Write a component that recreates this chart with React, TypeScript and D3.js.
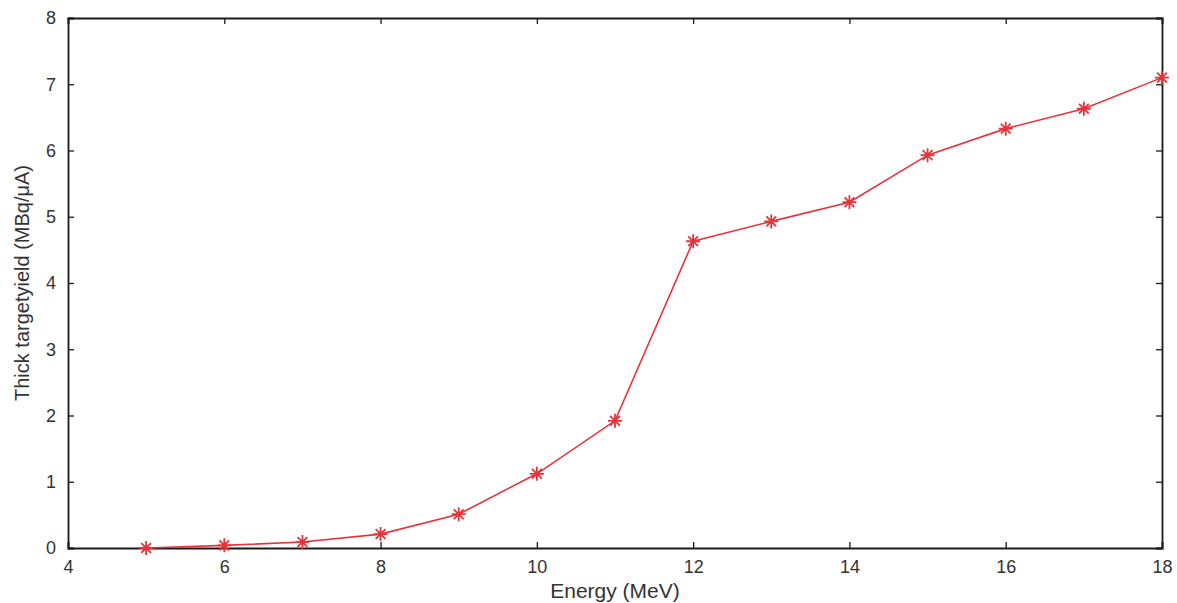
import React, { useRef, useEffect } from 'react';
import * as d3 from 'd3';

const energy = [5, 6, 7, 8, 9, 10, 11, 12, 13, 14, 15, 16, 17, 18];
const yieldValues = [0, 0.04, 0.09, 0.21, 0.51, 1.12, 1.92, 4.63, 4.93, 5.22, 5.93, 6.33, 6.63, 7.1];
const xTicks = [4, 6, 8, 10, 12, 14, 16, 18];
const yTicks = [0, 1, 2, 3, 4, 5, 6, 7, 8];

const App = () => {
    const ref = useRef<SVGSVGElement>(null);

    useEffect(() => {
        const svg = d3.select(ref.current);
        svg.selectAll("*").remove();

        const margin = { top: 18, right: 15, bottom: 55, left: 68 },
            fullW = 1177, fullH = 603,
            width = fullW - margin.left - margin.right,
            height = fullH - margin.top - margin.bottom;

        const font = "'Liberation Sans', Arial, sans-serif";
        const red = "#e8323a";

        const g = svg.append("g")
            .attr("transform", `translate(${margin.left}, ${margin.top})`);

        const x = d3.scaleLinear().domain([4, 18]).range([0, width]);
        const y = d3.scaleLinear().domain([0, 8]).range([height, 0]);

        // ticks pointing inward on all four sides
        const tk = 6;
        g.append("g").attr("transform", `translate(0, ${height})`)
            .call(d3.axisBottom(x).tickValues(xTicks).tickSize(-tk).tickPadding(12).tickFormat(d3.format("d")));
        g.append("g")
            .call(d3.axisTop(x).tickValues(xTicks).tickSize(-tk).tickFormat(() => ""));
        g.append("g")
            .call(d3.axisLeft(y).tickValues(yTicks).tickSize(-tk).tickPadding(12).tickFormat(d3.format("d")));
        g.append("g").attr("transform", `translate(${width}, 0)`)
            .call(d3.axisRight(y).tickValues(yTicks).tickSize(-tk).tickFormat(() => ""));

        g.selectAll(".domain").attr("stroke", "#1a1a1a").attr("stroke-width", 1.8);
        g.selectAll(".tick line").attr("stroke", "#1a1a1a").attr("stroke-width", 1.3);
        g.selectAll(".tick text").attr("font-family", font).attr("font-size", 18).attr("fill", "#333");

        const pts = energy.map((e, i) => ({ e, v: yieldValues[i] }));

        const line = d3.line<{ e: number, v: number }>()
            .x(d => x(d.e))
            .y(d => y(d.v));

        g.append("path")
            .datum(pts)
            .attr("fill", "none")
            .attr("stroke", red)
            .attr("stroke-width", 1.6)
            .attr("d", line);

        // asterisk markers
        const r = 7;
        const star = `M${-r},0L${r},0M0,${-r}L0,${r}M${-r * 0.7},${-r * 0.7}L${r * 0.7},${r * 0.7}M${-r * 0.7},${r * 0.7}L${r * 0.7},${-r * 0.7}`;
        g.selectAll(".mark")
            .data(pts)
            .enter().append("path")
            .attr("class", "mark")
            .attr("transform", d => `translate(${x(d.e)}, ${y(d.v)})`)
            .attr("d", star)
            .attr("stroke", red)
            .attr("stroke-width", 1.8)
            .attr("fill", "none");

        svg.append("text")
            .attr("x", margin.left + width / 2)
            .attr("y", 598)
            .attr("text-anchor", "middle")
            .attr("font-family", font)
            .attr("font-size", 21)
            .attr("fill", "#333")
            .text("Energy (MeV)");

        svg.append("text")
            .attr("transform", `translate(29, ${margin.top + height / 2}) rotate(-90)`)
            .attr("text-anchor", "middle")
            .attr("font-family", font)
            .attr("font-size", 20)
            .attr("fill", "#333")
            .text("Thick targetyield (MBq/μA)");
    }, []);

    return (
        <div style={{ position: 'absolute', left: 0, top: 0 }}>
            <svg ref={ref} width={1177} height={603} style={{ display: 'block', background: '#fff' }} />
        </div>
    );
};

export default App;
